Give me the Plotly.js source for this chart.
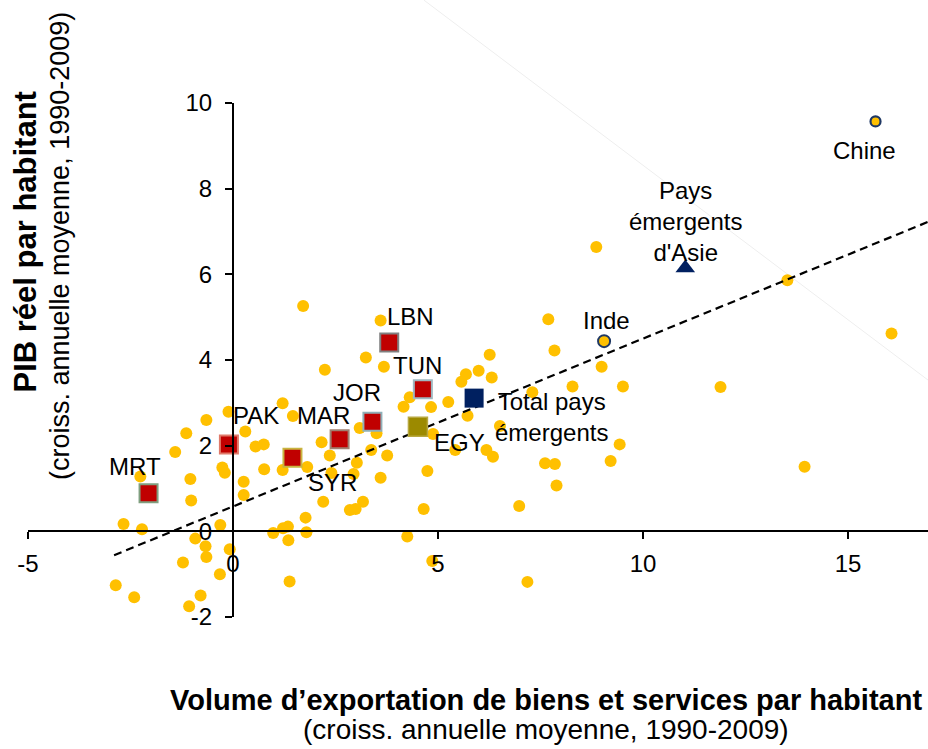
<!DOCTYPE html>
<html>
<head>
<meta charset="utf-8">
<script src="https://cdn.plot.ly/plotly-3.0.1.min.js"></script>
<style>html,body{margin:0;padding:0;background:#fff;}#chart{width:928px;height:749px;}</style>
</head>
<body>
<div id="chart"></div>
<script>
// Other emerging countries: export volume growth per capita (x) vs real GDP per capita growth (y)
const otherExport = [1.71,1.21,-0.11,1.46,-0.65,0.30,-1.14,0.55,0.75,-1.41,-0.26,-0.20,-1.04,0.26,0.76,1.21,-2.26,1.81,0.26,-1.02,
  1.77,-0.31,-2.67,-2.22,0.98,1.22,1.34,1.79,-0.92,-0.67,-0.08,1.35,-0.65,-1.22,-0.32,1.38,-2.86,-2.41,-0.79,-1.07,
  3.60,7.69,3.24,2.24,3.68,6.26,5.68,5.99,6.31,5.57,7.84,8.99,8.28,9.51,7.30,4.31,4.16,4.83,5.25,5.72,
  3.09,3.50,2.16,6.51,9.43,9.21,4.88,5.42,6.18,6.34,3.37,3.76,2.36,3.02,2.94,2.40,3.60,4.74,7.61,7.85,
  7.89,2.20,3.17,2.85,2.99,4.65,6.98,4.25,4.86,7.18,8.86,13.52,16.06,11.89,13.94];
const otherGdp = [5.26,2.99,2.79,2.69,2.60,2.33,2.29,1.98,2.03,1.85,1.49,1.37,1.22,1.16,1.45,1.43,1.28,1.50,0.85,0.72,
  0.32,0.15,0.17,0.05,-0.04,0.07,0.11,-0.02,-0.17,-0.35,-0.42,-0.21,-0.60,-0.73,-1.00,-1.17,-1.26,-1.54,-1.50,-1.75,
  4.92,4.95,4.06,3.77,3.84,4.12,3.67,3.75,3.59,3.49,4.22,3.84,3.38,3.38,3.25,3.13,2.91,2.90,3.02,2.70,
  2.41,2.29,2.08,2.46,2.03,1.64,2.27,1.90,1.90,1.74,1.90,1.77,1.77,1.60,1.34,1.36,1.25,1.41,1.59,1.57,
  1.07,0.69,0.69,0.50,0.52,0.52,0.59,-0.12,-0.69,-1.18,6.64,5.86,4.62,3.37,1.51];

// MENA countries highlighted
const menaNames  = ['MRT','PAK','SYR','MAR','JOR','LBN','TUN'];
const menaExport = [-2.06,-0.10,1.45,2.60,3.40,3.81,4.63];
const menaGdp    = [0.89,2.03,1.72,2.15,2.56,4.41,3.32];

const egyExport = [4.51], egyGdp = [2.44];
const totalExport = [5.88], totalGdp = [3.11];
const asiaExport = [11.03], asiaGdp = [6.15];
const indeExport = [9.05], indeGdp = [4.44];
const chineExport = [15.67], chineGdp = [9.57];

// Regression line
const trendX = [-2.9, 16.95];
const trendSlope = 0.392, trendIntercept = 0.58;
const trendY = trendX.map(v => trendIntercept + trendSlope * v);

const xTicks = [-5, 0, 5, 10, 15];
const yTicks = [-2, 0, 2, 4, 6, 8, 10];

const FONT = 'Liberation Sans, Arial, sans-serif';
const xRange = [-5, 16.95], yRange = [-2, 10];

const traces = [
  {x: otherExport, y: otherGdp, type: 'scatter', mode: 'markers', hoverinfo: 'skip',
   marker: {color: '#FFC000', size: 12, line: {width: 0}}},
  {x: trendX, y: trendY, type: 'scatter', mode: 'lines', hoverinfo: 'skip',
   line: {color: '#000000', width: 2.2, dash: '8px,5px'}},
  {x: menaExport, y: menaGdp, type: 'scatter', mode: 'markers', hoverinfo: 'skip',
   marker: {symbol: 'square', color: '#C00000', size: 18,
     line: {width: 2, color: ['#7f9f7f','#e07a6a','#c8b440','#a08070','#8fb0b8','#808080','#9fb8c0']}}},
  {x: egyExport, y: egyGdp, type: 'scatter', mode: 'markers', hoverinfo: 'skip',
   marker: {symbol: 'square', color: '#9C8A00', size: 19, line: {width: 1.5, color: '#b8a840'}}},
  {x: totalExport, y: totalGdp, type: 'scatter', mode: 'markers', hoverinfo: 'skip',
   marker: {symbol: 'square', color: '#002060', size: 19, line: {width: 0}}},
  {x: asiaExport, y: asiaGdp, type: 'scatter', mode: 'markers', hoverinfo: 'skip',
   marker: {symbol: 'triangle-up', color: '#002060', size: 17, line: {width: 0}}},
  {x: indeExport, y: indeGdp, type: 'scatter', mode: 'markers', hoverinfo: 'skip',
   marker: {color: '#FFC000', size: 12, line: {width: 2, color: '#1F3864'}}},
  {x: chineExport, y: chineGdp, type: 'scatter', mode: 'markers', hoverinfo: 'skip',
   marker: {color: '#FFC000', size: 10, line: {width: 2.2, color: '#1F3864'}}}
];

function lab(text, x, y, ax, ay) {
  return {text: text, x: x, y: y, xref: 'x', yref: 'y', showarrow: true,
    arrowcolor: 'rgba(0,0,0,0)', arrowwidth: 0.1, ax: ax, ay: ay,
    font: {family: FONT, size: 24, color: '#000'}};
}
const menaOffsets = [[-14,-27],[27,-29],[40,25],[-16,-24],[-15,-29],[21,-26],[-5,-24]];
const annotations = menaNames.map((n, i) => lab(n, menaExport[i], menaGdp[i], menaOffsets[i][0], menaOffsets[i][1]));
annotations.push(lab('EGY', egyExport[0], egyGdp[0], 42, 16));
annotations.push(lab('Total pays<br>émergents', totalExport[0], totalGdp[0], 77, 19));
annotations.push(lab('Pays<br>émergents<br>d\'Asie', asiaExport[0], asiaGdp[0], 0, -46));
annotations.push(lab('Inde', indeExport[0], indeGdp[0], 2, -21));
annotations.push(lab('Chine', chineExport[0], chineGdp[0], -11, 29));

// Axis titles
annotations.push({text: '<b>PIB réel par habitant</b>', xref: 'paper', yref: 'paper', x: -0.0033, y: 0.7286,
  xanchor: 'center', yanchor: 'middle',
  showarrow: false, textangle: -90, font: {family: FONT, size: 31, color: '#000'}});
annotations.push({text: '(croiss. annuelle moyenne, 1990-2009)', xref: 'paper', yref: 'paper', x: 0.0356, y: 0.7218,
  xanchor: 'center', yanchor: 'middle',
  showarrow: false, textangle: -90, font: {family: FONT, size: 27, color: '#000'}});
annotations.push({text: '<b>Volume d’exportation de biens et services par habitant</b>', xref: 'paper', yref: 'paper',
  x: 0.575, y: -0.1615, xanchor: 'center', yanchor: 'middle',
  showarrow: false, font: {family: FONT, size: 29, color: '#000'}});
annotations.push({text: '(croiss. annuelle moyenne, 1990-2009)', xref: 'paper', yref: 'paper',
  x: 0.575, y: -0.2198, xanchor: 'center', yanchor: 'middle',
  showarrow: false, font: {family: FONT, size: 28, color: '#000'}});

const layout = {
  width: 928, height: 749,
  margin: {l: 28, r: 0, t: 103, b: 132, pad: 0},
  paper_bgcolor: '#ffffff', plot_bgcolor: 'rgba(0,0,0,0)',
  showlegend: false,
  font: {family: FONT, size: 24, color: '#000'},
  xaxis: {range: xRange, anchor: 'free', position: (0 - yRange[0]) / (yRange[1] - yRange[0]),
    showline: true, linecolor: '#000', linewidth: 2, zeroline: false, showgrid: false,
    ticks: 'outside', ticklen: 7, tickwidth: 2, tickcolor: '#000',
    tickvals: xTicks, ticktext: xTicks.map(String), ticklabelstandoff: 4,
    tickfont: {family: FONT, size: 24, color: '#000'}},
  yaxis: {range: yRange, anchor: 'free', position: (0 - xRange[0]) / (xRange[1] - xRange[0]),
    showline: true, linecolor: '#000', linewidth: 2, zeroline: false, showgrid: false,
    ticks: 'outside', ticklen: 7, tickwidth: 2, tickcolor: '#000',
    tickvals: yTicks, ticktext: yTicks.map(String), ticklabelstandoff: 8,
    tickfont: {family: FONT, size: 24, color: '#000'}},
  shapes: [{type: 'line', xref: 'paper', yref: 'paper', x0: 0.44, y0: 1.2, x1: 1.0, y1: 0.461,
    line: {color: '#eeeeee', width: 1}, layer: 'below'}],
  annotations: annotations
};

Plotly.newPlot('chart', traces, layout, {staticPlot: true, displayModeBar: false});
</script>
</body>
</html>
